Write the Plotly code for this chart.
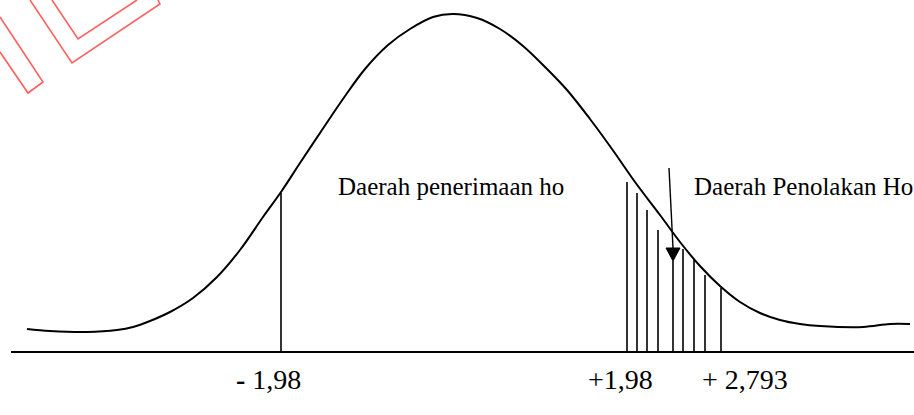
import plotly.graph_objects as go

# Bell curve traced as (x, height above baseline)
curve_x = [27, 50, 87, 117, 133, 150, 170, 193, 217, 240, 263, 281, 300, 322, 343,
           365, 388, 410, 433, 453, 477, 500, 523, 545, 567, 590, 612, 635, 660,
           680, 700, 720, 740, 760, 780, 800, 820, 863, 890, 910]
curve_h = [23, 21, 20, 22, 25, 31, 40, 54, 75, 102, 135, 160, 189, 222, 253,
           283, 307, 323, 335, 338, 334, 323, 306, 285, 262, 233, 203, 170, 137,
           110, 86, 66, 50, 39, 32, 28, 26, 25, 28, 28]

# Critical value at the lower tail
left_crit_x = 281
left_crit_h = 159

# Hatching of the rejection region
hatch_x = [627, 637, 647, 658, 673, 683, 694, 705, 721]
hatch_h = [170, 159, 142, 122, 91, 103, 92, 77, 64]

# Arrow pointing into the rejection region
arrow_x = [669, 673]
arrow_h = [184, 104]
head_x = [666, 680, 673, 666]
head_h = [104, 104, 91, 104]

baseline_x = [11, 914]

# Value labels under the axis
value_labels = ["<b>-</b> 1,98", "+1,98", "+ 2,793"]
value_x = [268, 620, 745]

region_labels = ["Daerah penerimaan ho", "Daerah Penolakan Ho"]
region_x = [336, 692]
region_h = [166, 166]

# Corner mark outlines
mark_paths = [
    ([0, 43, 28, 0], [335, 270, 259, 300]),
    ([30, 72, 160, 158], [352, 289, 348, 352]),
    ([52, 78, 137], [352, 313, 352]),
]

fig = go.Figure()

for mx, mh in mark_paths:
    fig.add_trace(go.Scatter(x=mx, y=mh, mode="lines",
                             line=dict(color="rgb(255,95,95)", width=1.6),
                             hoverinfo="skip"))

fig.add_trace(go.Scatter(x=baseline_x, y=[0, 0], mode="lines",
                         line=dict(color="black", width=2), hoverinfo="skip"))

fig.add_trace(go.Scatter(x=curve_x, y=curve_h, mode="lines",
                         line=dict(color="black", width=2, shape="spline", smoothing=1.0),
                         hoverinfo="skip"))

vx, vy = [left_crit_x, left_crit_x, None], [0, left_crit_h, None]
for hx, hh in zip(hatch_x, hatch_h):
    vx += [hx, hx, None]
    vy += [0, hh, None]
fig.add_trace(go.Scatter(x=vx, y=vy, mode="lines",
                         line=dict(color="black", width=1.6), hoverinfo="skip"))

fig.add_trace(go.Scatter(x=arrow_x, y=arrow_h, mode="lines",
                         line=dict(color="black", width=1.4), hoverinfo="skip"))
fig.add_trace(go.Scatter(x=head_x, y=head_h, mode="lines", fill="toself",
                         fillcolor="black", line=dict(color="black", width=1),
                         hoverinfo="skip"))

for t, x in zip(value_labels, value_x):
    fig.add_annotation(x=x, y=-27, text=t, showarrow=False, xanchor="center",
                       yanchor="middle",
                       font=dict(family="Liberation Serif", size=28, color="black"))

for t, x, h in zip(region_labels, region_x, region_h):
    fig.add_annotation(x=x, y=h, text=t, showarrow=False, xanchor="left",
                       yanchor="middle",
                       font=dict(family="Liberation Serif", size=25, color="black"))

fig.update_layout(
    width=914, height=415,
    margin=dict(l=0, r=0, t=0, b=0),
    paper_bgcolor="white", plot_bgcolor="white",
    showlegend=False,
    xaxis=dict(range=[0, 914], visible=False, fixedrange=True),
    yaxis=dict(range=[-63, 352], visible=False, fixedrange=True),
)

fig.write_html("out.html", config={"displayModeBar": False})
